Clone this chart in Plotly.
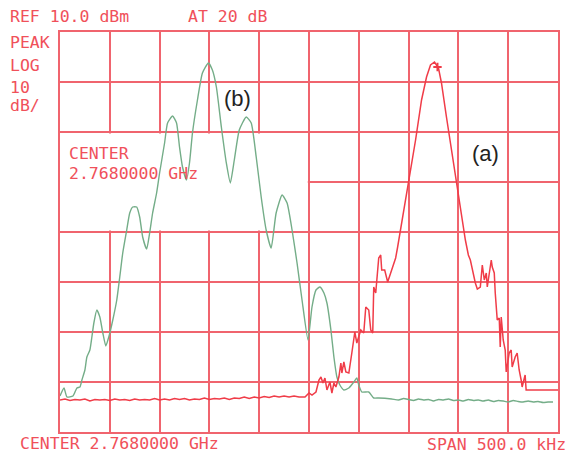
import plotly.graph_objects as go

# Frequency offset from 2.7680000 GHz centre, in kHz; levels in dBm
trace_b_freq = [-250, -246, -243, -237, -233, -230, -228, -225, -223, -220, -218, -216, -213,
                -210, -207, -204, -201, -197, -193, -190, -187, -183, -180, -177, -173, -170,
                -167, -163, -160, -157, -153, -150, -145, -142, -137, -133, -130, -127, -123,
                -120, -117, -112, -107, -101, -97, -93, -88, -83, -79, -75, -70, -63, -58,
                -53, -48, -43, -38, -33, -27, -22, -17, -12, -7, -1, 3, 7, 11, 15, 18, 22, 25,
                28, 31, 35, 40, 45, 48, 50, 53, 60, 65, 70, 83,
                90, 95, 100, 105, 110, 115, 120, 125, 130, 135, 140, 145, 150, 155, 160, 165,
                170, 175, 180, 185, 190, 195, 200, 205, 210, 215, 220, 225, 230, 235, 240, 245, 250]
trace_b_level = [-62.8, -61.2, -63.0, -62.8, -61.2, -61.0, -59.6, -57.6, -55.0, -53.6, -51.0, -48.2,
                 -45.6, -47.0, -50.2, -52.8, -51.0, -47.6, -43.6, -39.0, -34.2, -29.6, -26.2, -25.0,
                 -25.0, -27.0, -31.0, -33.4, -30.2, -26.2, -22.2, -18.2, -12.2, -8.2, -6.8, -8.2,
                 -13.0, -17.0, -19.6, -16.2, -10.2, -3.6, 1.8, 3.8, 2.4, -1.0, -9.0, -16.2, -20.2,
                 -15.6, -9.6, -7.0, -8.2, -15.0, -23.0, -29.6, -33.2, -26.2, -22.6, -24.2, -29.6,
                 -36.2, -43.6, -51.6, -45.0, -41.6, -41.0, -42.2, -44.2, -49.6, -55.0, -59.0,
                 -60.6, -61.6, -61.2, -60.0, -59.2, -60.6, -62.0, -62.0, -63.2, -63.2, -63.4,
                 -63.6, -63.3, -63.5, -63.7, -63.4, -63.6, -63.5, -63.8, -63.5, -63.6, -63.4,
                 -63.7, -63.6, -63.8, -63.5, -63.7, -63.6, -63.8, -63.6, -63.9, -63.7, -63.8,
                 -64.0, -63.7, -63.9, -64.0, -63.8, -64.0, -63.9, -64.1, -64.0, -64.0]

trace_a_freq = [-250, -245, -240, -235, -230, -225, -220, -215, -210, -205, -200, -195, -190,
                -185, -180, -175, -170, -165, -160, -155, -150, -145, -140, -135, -130, -125,
                -120, -115, -110, -105, -100, -95, -90, -85, -80, -75, -70, -65, -60, -55, -50,
                -45, -40, -35, -30, -25, -20, -15, -10, -4, 0, 3, 7, 10, 12, 14, 16, 18, 21, 23,
                25, 27, 30, 32, 33, 35, 37, 40, 43, 46, 48, 52, 55, 57, 60, 62, 64, 65, 67, 70,
                72, 73, 76, 79, 83, 87, 89, 93, 100, 107, 113, 118, 122, 126, 130, 133, 138, 143,
                148, 153, 157, 160, 162, 167, 169, 172, 174, 176, 178, 179, 181, 183, 184, 186,
                187, 189, 191, 192, 193, 195, 197, 198, 201, 203, 204, 207, 209, 211, 213, 214,
                217, 218, 250]
trace_a_level = [-63.6, -63.4, -63.7, -63.5, -63.6, -63.4, -63.8, -63.5, -63.6, -63.5, -63.7,
                 -63.4, -63.6, -63.5, -63.7, -63.4, -63.6, -63.5, -63.6, -63.3, -63.6, -63.4,
                 -63.6, -63.3, -63.5, -63.3, -63.6, -63.4, -63.5, -63.2, -63.5, -63.3, -63.4,
                 -63.2, -63.5, -63.2, -63.3, -63.0, -63.3, -63.0, -63.2, -62.9, -63.1, -62.8,
                 -63.0, -62.8, -63.0, -62.8, -63.0, -63.0, -62.2, -62.6, -62.0, -59.6, -59.0,
                 -60.2, -59.2, -61.6, -60.0, -62.2, -60.2, -61.0, -59.0, -56.2, -58.2, -56.0,
                 -58.0, -58.2, -54.2, -50.0, -52.2, -49.6, -50.2, -45.0, -45.6, -49.6, -50.2,
                 -41.0, -42.2, -35.2, -34.6, -37.6, -37.6, -40.0, -37.6, -35.2, -33.0, -28.2,
                 -20.2, -11.6, -3.6, 1.0, 3.4, 4.0, 2.8, -0.2, -7.0, -13.6, -20.2, -27.0, -31.6,
                 -34.6, -35.6, -40.2, -41.4, -41.0, -36.6, -39.6, -38.2, -41.0, -38.2, -35.6,
                 -37.0, -38.2, -42.2, -47.6, -47.2, -53.0, -47.0, -51.6, -53.6, -58.0, -54.2,
                 -53.6, -57.0, -55.0, -54.2, -57.6, -59.6, -61.0, -58.6, -61.6, -61.6]

marker_freq = [129]
marker_level = [3.0]

GRID = "#f0646e"
RED = "#f03c48"
GREEN = "#74ad88"
TXT = "#f0505a"
MONO = "DejaVu Sans Mono"

fig = go.Figure()
fig.add_trace(go.Scatter(x=trace_b_freq, y=trace_b_level, mode="lines",
                         line=dict(color=GREEN, width=1.4, shape="spline", smoothing=0.5),
                         hoverinfo="skip", showlegend=False))
fig.add_trace(go.Scatter(x=trace_a_freq, y=trace_a_level, mode="lines",
                         line=dict(color=RED, width=1.5),
                         hoverinfo="skip", showlegend=False))
fig.add_trace(go.Scatter(x=marker_freq, y=marker_level, mode="markers",
                         marker=dict(symbol="cross-thin", size=6, line=dict(color=RED, width=2)),
                         hoverinfo="skip", showlegend=False))

# blank annotation box over the grid
fig.add_shape(type="rect", xref="x", yref="y", x0=-250, x1=-1.2, y0=-29.7, y1=-10.3,
              fillcolor="white", line=dict(width=0), layer="between")

anns = [
    ("REF 10.0 dBm", -0.104, 1.0375, "left"),
    ("AT 20 dB", 0.254, 1.0375, "left"),
    ("PEAK", -0.104, 0.973, "left"),
    ("LOG", -0.104, 0.916, "left"),
    ("10", -0.104, 0.862, "left"),
    ("dB/", -0.104, 0.8175, "left"),
    ("CENTER", 0.014, 0.696, "left"),
    ("2.7680000 GHz", 0.014, 0.646, "left"),
    ("CENTER 2.7680000 GHz", -0.084, -0.029, "left"),
    ("SPAN 500.0 kHz", 1.02, -0.031, "right"),
]
for t, x, y, xa in anns:
    fig.add_annotation(text=t, xref="paper", yref="paper", x=x, y=y, xanchor=xa,
                       yanchor="middle", showarrow=False,
                       font=dict(family=MONO, size=16.5, color=TXT))

fig.add_annotation(text="(b)", x=-72, y=-3.2, xref="x", yref="y", showarrow=False,
                   font=dict(family="Liberation Sans", size=22, color="#222222"))
fig.add_annotation(text="(a)", x=177, y=-14.2, xref="x", yref="y", showarrow=False,
                   font=dict(family="Liberation Sans", size=22, color="#222222"))

fig.update_xaxes(range=[-250, 250], dtick=50, tick0=-250, showgrid=True, gridcolor=GRID,
                 gridwidth=1.5, showline=True, mirror=True, linecolor=GRID, linewidth=1.5,
                 showticklabels=False, ticks="", zeroline=False, fixedrange=True)
fig.update_yaxes(range=[-70, 10], dtick=10, tick0=-70, showgrid=True, gridcolor=GRID,
                 gridwidth=1.5, showline=True, mirror=True, linecolor=GRID, linewidth=1.5,
                 showticklabels=False, ticks="", zeroline=False, fixedrange=True)

fig.update_layout(width=570, height=455, margin=dict(l=60, r=10, t=32, b=23),
                  paper_bgcolor="white", plot_bgcolor="white", showlegend=False)

fig.write_html("out.html", config={"displayModeBar": False},
               post_script="document.body.style.margin='0px';"
                           "document.body.style.overflow='hidden';")
